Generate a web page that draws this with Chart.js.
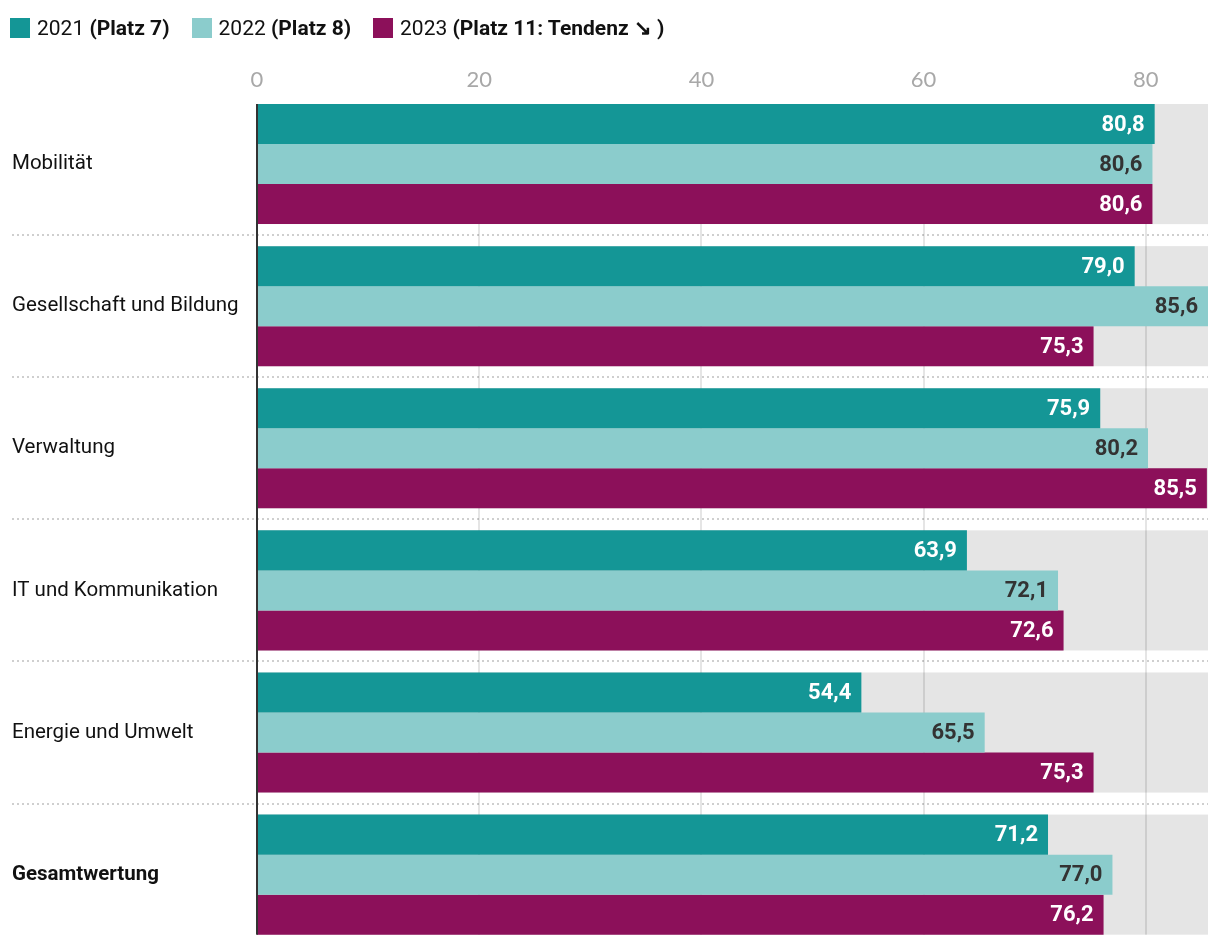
<!DOCTYPE html>
<html>
<head>
<meta charset="utf-8">
<script src="https://cdn.jsdelivr.net/npm/chart.js@4"></script>
<style>
  html, body { margin: 0; padding: 0; background: #fff; overflow: hidden; }
  body { width: 1220px; height: 944px; position: relative; }
  #c { position: absolute; left: 0; top: 0; }
  #legend { position: absolute; left: 10px; top: 16px; display: flex; align-items: center;
            font-family: Roboto, "Liberation Sans", sans-serif; font-size: 21px; color: #111; z-index: 2; }
  .item { display: flex; align-items: center; margin-right: 22px; white-space: nowrap; }
  .box { width: 20px; height: 20px; margin-right: 7px; }
  .item b { font-weight: 700; }
</style>
</head>
<body>
<div id="legend"></div>
<canvas id="c" width="1220" height="961" style="width:1220px;height:961px"></canvas>
<script>
const categories = ["Mobilität", "Gesellschaft und Bildung", "Verwaltung", "IT und Kommunikation", "Energie und Umwelt", "Gesamtwertung"];
const seriesNames = ["2021", "2022", "2023"];
const seriesNotes = ["(Platz 7)", "(Platz 8)", "(Platz 11: Tendenz \u2198 )"];
const values2021 = [80.8, 79.0, 75.9, 63.9, 54.4, 71.2];
const values2022 = [80.6, 85.6, 80.2, 72.1, 65.5, 77.0];
const values2023 = [80.6, 75.3, 85.5, 72.6, 75.3, 76.2];
const tickValues = [0, 20, 40, 60, 80];
const axisMax = 85.6;

const colors = ["#149696", "#8bcccc", "#8c105a"];
const labelColors = ["#ffffff", "#333333", "#ffffff"];

// HTML legend (mixed weights)
const legend = document.getElementById('legend');
seriesNames.forEach((n, i) => {
  const it = document.createElement('div');
  it.className = 'item';
  it.innerHTML = '<span class="box" style="background:' + colors[i] + '"></span><span>' + n + ' <b>' + seriesNotes[i] + '</b></span>';
  legend.appendChild(it);
});

function groupExtents(chart) {
  const m0 = chart.getDatasetMeta(0).data;
  const m2 = chart.getDatasetMeta(chart.data.datasets.length - 1).data;
  return m0.map((el, i) => {
    const a = el.getProps(['y', 'height'], true);
    const b = m2[i].getProps(['y', 'height'], true);
    return { top: a.y - a.height / 2, bottom: b.y + b.height / 2 };
  });
}

const decorPlugin = {
  id: 'decor',
  beforeDatasetsDraw(chart) {
    const ctx = chart.ctx;
    const x = chart.scales.x;
    const ext = groupExtents(chart);
    const x0 = x.getPixelForValue(0), x1 = x.getPixelForValue(axisMax);
    ctx.save();
    // grey bands
    ctx.fillStyle = '#e5e5e5';
    ext.forEach(g => ctx.fillRect(x0, g.top, x1 - x0, g.bottom - g.top));
    // separators
    ctx.strokeStyle = '#cfcfcf';
    ctx.lineWidth = 2;
    ctx.setLineDash([2, 3]);
    for (let i = 0; i < ext.length - 1; i++) {
      const y = Math.round((ext[i].bottom + ext[i + 1].top) / 2);
      ctx.beginPath();
      ctx.moveTo(12, y);
      ctx.lineTo(x1, y);
      ctx.stroke();
    }
    ctx.setLineDash([]);
    // vertical grid lines
    ctx.strokeStyle = 'rgba(0,0,0,0.1)';
    ctx.lineWidth = 2;
    tickValues.forEach(v => {
      if (v === 0) return;
      const px = Math.round(x.getPixelForValue(v));
      ctx.beginPath();
      ctx.moveTo(px, ext[0].top);
      ctx.lineTo(px, ext[ext.length - 1].bottom);
      ctx.stroke();
    });
    ctx.restore();
  },
  afterDatasetsDraw(chart) {
    const ctx = chart.ctx;
    const x = chart.scales.x;
    const ext = groupExtents(chart);
    ctx.save();
    // value labels
    ctx.font = 'bold 22px Roboto, "Liberation Sans", sans-serif';
    ctx.textAlign = 'right';
    ctx.textBaseline = 'middle';
    chart.data.datasets.forEach((ds, di) => {
      ctx.fillStyle = labelColors[di];
      chart.getDatasetMeta(di).data.forEach((el, i) => {
        const p = el.getProps(['x', 'y'], true);
        ctx.fillText(ds.data[i].toFixed(1).replace('.', ','), p.x - 10, p.y + 1);
      });
    });
    // axis line at 0
    const px = x.getPixelForValue(0);
    ctx.fillStyle = '#333333';
    ctx.fillRect(px - 1, ext[0].top, 2, ext[ext.length - 1].bottom - ext[0].top);
    ctx.restore();
  }
};

new Chart(document.getElementById('c'), {
  type: 'bar',
  data: {
    labels: categories,
    datasets: [
      { label: seriesNames[0], data: values2021, backgroundColor: colors[0] },
      { label: seriesNames[1], data: values2022, backgroundColor: colors[1] },
      { label: seriesNames[2], data: values2023, backgroundColor: colors[2] }
    ]
  },
  options: {
    indexAxis: 'y',
    responsive: false,
    animation: false,
    layout: { padding: { left: 12, right: 12, top: 50, bottom: 1 } },
    datasets: { bar: { categoryPercentage: 120 / 142, barPercentage: 1, borderWidth: 0 } },
    plugins: { legend: { display: false }, tooltip: { enabled: false } },
    scales: {
      x: {
        position: 'top',
        min: 0,
        max: axisMax,
        afterBuildTicks(scale) { scale.ticks = tickValues.map(v => ({ value: v })); },
        afterFit(scale) { scale.height = 43; },
        grid: { display: false, drawTicks: false },
        border: { display: false },
        ticks: {
          padding: 0,
          color: '#a8a8a8',
          font: { family: 'Lato, Roboto, sans-serif', size: 22 }
        }
      },
      y: {
        afterFit(scale) { scale.width = 245; },
        grid: { display: false, drawTicks: false },
        border: { display: false },
        ticks: {
          crossAlign: 'far',
          color: '#111111',
          font: (ctx) => ({
            family: 'Roboto, "Liberation Sans", sans-serif',
            size: 20.5,
            weight: ctx.index === categories.length - 1 ? 'bold' : 'normal'
          })
        }
      }
    }
  },
  plugins: [decorPlugin]
});
</script>
</body>
</html>
